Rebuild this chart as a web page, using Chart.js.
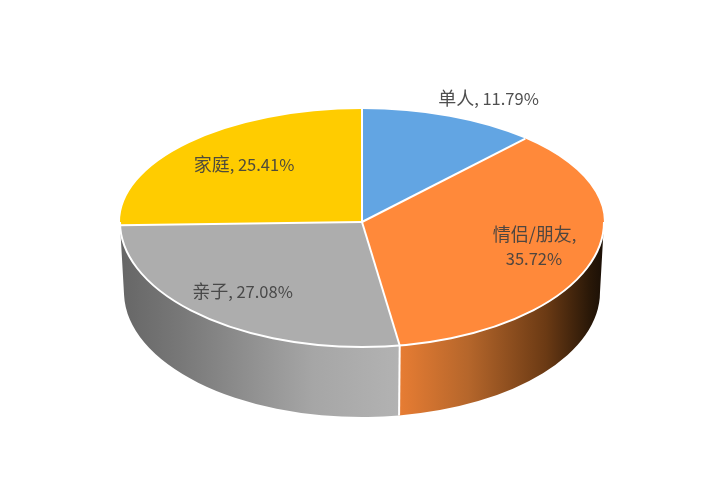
<!DOCTYPE html>
<html>
<head>
<meta charset="utf-8">
<style>
  html, body { margin: 0; padding: 0; background: #fff; }
  canvas { display: block; }
</style>
<script src="https://cdn.jsdelivr.net/npm/chart.js@4/dist/chart.umd.min.js"></script>
</head>
<body>
<canvas id="c" width="704" height="491"></canvas>
<script>
const categories = ["单人", "情侣/朋友", "亲子", "家庭"];
const shares = [11.79, 35.72, 27.08, 25.41];
const sliceColors = ["#62a5e3", "#ff893a", "#adadad", "#ffcc00"];

// side wall shading, by slice. x is a fraction of the pie width
const wallStops = [
  null,
  [[0.58, "#e67c33"], [0.72, "#b5662b"], [0.88, "#6b3a14"], [0.97, "#2a1808"], [1, "#1a0f06"]],
  [[0, "#666666"], [0.12, "#777777"], [0.4, "#a6a6a6"], [0.6, "#b4b4b4"], [0.78, "#a6a6a6"]],
  null,
];

// text lines and where they sit: x center, baseline y, kind of line
const labelLines = [
  [[488.5, 105, "full"]],
  [[534.5, 241, "name"], [534, 265, "value"]],
  [[242.5, 298, "full"]],
  [[244, 171, "full"]],
];

const PIE_RADIUS = 242;
const SCALE_TOP = 113 / 242;
const SCALE_BOTTOM = 125 / 242;
const DEPTH = 70;
const BOTTOM_RX = 238;
const CJK_FONT = '18px "Noto Sans CJK SC"';
const LATIN_FONT = '16.5px "Noto Sans CJK SC"';

function squash(ctx, el, k) {
  ctx.translate(el.x, el.y);
  ctx.scale(1, k);
  ctx.translate(-el.x, -el.y);
}

function drawWalls(chart) {
  const ctx = chart.ctx;
  chart.getDatasetMeta(0).data.forEach((el, i) => {
    if (!wallStops[i]) return;
    const a0 = Math.max(el.startAngle, 0);
    const a1 = Math.min(el.endAngle, Math.PI);
    if (a1 <= a0) return;
    const ry = el.outerRadius * SCALE_BOTTOM;
    const left = el.x - el.outerRadius;
    const grad = ctx.createLinearGradient(left, 0, el.x + el.outerRadius, 0);
    wallStops[i].forEach(s => grad.addColorStop(s[0], s[1]));
    ctx.beginPath();
    ctx.ellipse(el.x, el.y, el.outerRadius, ry, 0, a0, a1);
    ctx.ellipse(el.x, el.y + DEPTH, BOTTOM_RX, ry, 0, a1, a0, true);
    ctx.closePath();
    ctx.fillStyle = grad;
    ctx.fill();
  });
}

function drawSeams(chart) {
  const ctx = chart.ctx;
  const els = chart.getDatasetMeta(0).data;
  ctx.save();
  ctx.strokeStyle = "#fff";
  ctx.lineWidth = 2;
  els.forEach(el => {
    const c = Math.cos(el.startAngle), s = Math.sin(el.startAngle);
    const k = s < 0 ? SCALE_TOP : SCALE_BOTTOM;
    const ex = el.x + el.outerRadius * c;
    const ey = el.y + el.outerRadius * s * k;
    ctx.beginPath();
    ctx.moveTo(el.x, el.y);
    ctx.lineTo(ex, ey);
    ctx.stroke();
    // wall edge under the slice boundary
    if (s > 0.05) {
      ctx.beginPath();
      ctx.moveTo(ex, ey);
      ctx.lineTo(el.x + BOTTOM_RX * c, ey + DEPTH);
      ctx.stroke();
    }
  });
  const el = els[0];
  ctx.beginPath();
  ctx.ellipse(el.x, el.y, el.outerRadius, el.outerRadius * SCALE_BOTTOM, 0, 0, Math.PI);
  ctx.stroke();
  ctx.restore();
}

// Chinese and digits have different sizes in the reference, so two runs
function drawLine(ctx, cjk, latin, cx, y) {
  ctx.font = CJK_FONT;
  const w1 = ctx.measureText(cjk).width;
  ctx.font = LATIN_FONT;
  const w2 = ctx.measureText(latin).width;
  const x = cx - (w1 + w2) / 2;
  ctx.fillText(latin, x + w1, y);
  ctx.font = CJK_FONT;
  ctx.fillText(cjk, x, y);
}

const pie3d = {
  id: "pie3d",
  beforeDatasetDraw(chart, args) {
    const ctx = chart.ctx;
    const meta = chart.getDatasetMeta(args.index);
    const el = meta.data[0];
    drawWalls(chart);
    // top face: upper half is a bit flatter than the lower half
    ctx.save();
    ctx.beginPath();
    ctx.rect(0, 0, chart.width, el.y);
    ctx.clip();
    squash(ctx, el, SCALE_TOP);
    meta.controller.draw();
    ctx.restore();
    ctx.save();
    ctx.beginPath();
    ctx.rect(0, el.y, chart.width, chart.height - el.y);
    ctx.clip();
    squash(ctx, el, SCALE_BOTTOM);
    meta.controller.draw();
    ctx.restore();
    drawSeams(chart);
    return false;
  },
  afterDraw(chart) {
    const ctx = chart.ctx;
    ctx.save();
    ctx.fillStyle = "rgba(64,64,64,0.92)";
    ctx.textAlign = "left";
    ctx.textBaseline = "alphabetic";
    labelLines.forEach((lines, i) => {
      const value = shares[i].toFixed(2) + "%";
      lines.forEach(l => {
        if (l[2] === "full") drawLine(ctx, categories[i], ", " + value, l[0], l[1]);
        else if (l[2] === "name") drawLine(ctx, categories[i], ",", l[0], l[1]);
        else drawLine(ctx, "", value, l[0], l[1]);
      });
    });
    ctx.restore();
  },
};

new Chart(document.getElementById("c"), {
  type: "pie",
  data: {
    labels: categories,
    datasets: [{
      data: shares,
      backgroundColor: sliceColors,
      borderWidth: 0,
      radius: PIE_RADIUS,
    }],
  },
  options: {
    responsive: false,
    animation: false,
    layout: { padding: { left: 20, bottom: 47 } },
    plugins: { legend: { display: false }, tooltip: { enabled: false } },
  },
  plugins: [pie3d],
});
</script>
</body>
</html>
